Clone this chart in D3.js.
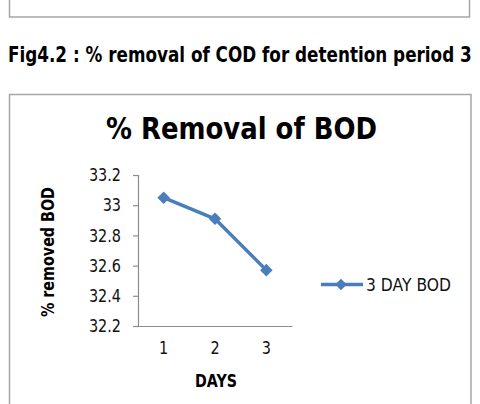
<!DOCTYPE html>
<html>
<head>
<meta charset="utf-8">
<script src="https://cdn.jsdelivr.net/npm/d3@7"></script>
<style>
  body { margin: 0; background: #fff; }
  text { font-family: "DejaVu Sans", sans-serif; }
</style>
</head>
<body>
<svg id="chart" width="480" height="404"></svg>
<script>
// data
const days = ["1", "2", "3"]
const bodRemoval = [33.05, 32.91, 32.57]
const yTicks = [32.2, 32.4, 32.6, 32.8, 33, 33.2]
const seriesName = "3 DAY BOD"

const svg = d3.select("#chart")
const blue = "#4a7ebb"
const grey = "#8c8c8c"

// squeeze text so it looks like the narrow font of the original
function condense(sel, k) {
  sel.each(function() {
    let w = this.getComputedTextLength()
    d3.select(this)
      .attr("textLength", w * k)
      .attr("lengthAdjust", "spacingAndGlyphs")
  })
}

// box of the previous figure, cut at the top
svg.append("rect")
  .attr("x", 9.5).attr("y", -10).attr("width", 460).attr("height", 27)
  .attr("fill", "none").attr("stroke", "#a6a6a6").attr("stroke-width", 1.5)

// caption: scaled with a transform so its box stays inside the page
let caption = svg.append("text")
  .attr("x", 0).attr("y", 0)
  .attr("font-weight", "bold").attr("font-size", 21)
  .text("Fig4.2 : % removal of COD for detention period 3")
let capW = caption.node().getComputedTextLength()
caption.attr("transform", "translate(8,61.5) scale(" + (464 / capW) + ",1)")

// chart frame
svg.append("rect")
  .attr("x", 9.5).attr("y", 94.5).attr("width", 461.5).attr("height", 330)
  .attr("fill", "none").attr("stroke", "#a6a6a6").attr("stroke-width", 1.5)

svg.append("text")
  .attr("x", 106).attr("y", 139)
  .attr("font-weight", "bold").attr("font-size", 31)
  .attr("textLength", 271).attr("lengthAdjust", "spacingAndGlyphs")
  .text("% Removal of BOD")

// scales
const x = d3.scaleBand().domain(days).range([138, 292])
const y = d3.scaleLinear().domain([32.2, 33.2]).range([326, 175])

// y axis
const yAxis = svg.append("g")
  .attr("transform", "translate(138,0)")
  .call(d3.axisLeft(y).tickValues(yTicks).tickSize(5).tickPadding(12)
    .tickFormat(d => d3.format("")(d)))
yAxis.select(".domain").attr("stroke", grey).attr("stroke-width", 1.2)
yAxis.selectAll(".tick line").attr("stroke", grey).attr("stroke-width", 1.2)
yAxis.selectAll(".tick text")
  .attr("font-size", 18).attr("fill", "#111")
  .style("font-family", "'DejaVu Sans', sans-serif")
  .call(condense, 0.8)

// x axis
const xAxis = svg.append("g")
  .attr("transform", "translate(0,326)")
  .call(d3.axisBottom(x).tickSize(0).tickPadding(18))
xAxis.select(".domain").attr("stroke", grey).attr("stroke-width", 1.2)
xAxis.selectAll(".tick text")
  .attr("font-size", 18).attr("fill", "#111")
  .attr("dy", "0.55em")
  .style("font-family", "'DejaVu Sans', sans-serif")
  .call(condense, 0.8)

// axis titles
svg.append("text")
  .attr("transform", "translate(54,252) rotate(-90)")
  .attr("text-anchor", "middle")
  .attr("font-weight", "bold").attr("font-size", 17)
  .attr("textLength", 130).attr("lengthAdjust", "spacingAndGlyphs")
  .text("% removed BOD")

svg.append("text")
  .attr("x", 216).attr("y", 387)
  .attr("text-anchor", "middle")
  .attr("font-weight", "bold").attr("font-size", 17)
  .attr("textLength", 42).attr("lengthAdjust", "spacingAndGlyphs")
  .text("DAYS")

// series line
const line = d3.line()
  .x((d, i) => x(days[i]) + x.bandwidth() / 2)
  .y(d => y(d))

svg.append("path")
  .datum(bodRemoval)
  .attr("d", line)
  .attr("fill", "none")
  .attr("stroke", blue)
  .attr("stroke-width", 3.5)
  .attr("stroke-linejoin", "round")

const diamond = d3.symbol().type(d3.symbolDiamond2).size(100)

svg.selectAll(".pt")
  .data(bodRemoval)
  .enter().append("path")
  .attr("class", "pt")
  .attr("d", diamond)
  .attr("transform", (d, i) => "translate(" + (x(days[i]) + x.bandwidth() / 2) + "," + y(d) + ")")
  .attr("fill", blue)

// legend
const lg = svg.append("g").attr("transform", "translate(321,284.5)")
lg.append("line")
  .attr("x1", 0).attr("x2", 42).attr("y1", 0).attr("y2", 0)
  .attr("stroke", blue).attr("stroke-width", 3.5)
lg.append("path")
  .attr("d", d3.symbol().type(d3.symbolDiamond2).size(85))
  .attr("transform", "translate(20,0)")
  .attr("fill", blue)
lg.append("text")
  .attr("x", 45).attr("y", 6.5)
  .attr("font-size", 18.5).attr("fill", "#111")
  .attr("textLength", 85).attr("lengthAdjust", "spacingAndGlyphs")
  .text(seriesName)
</script>
</body>
</html>
